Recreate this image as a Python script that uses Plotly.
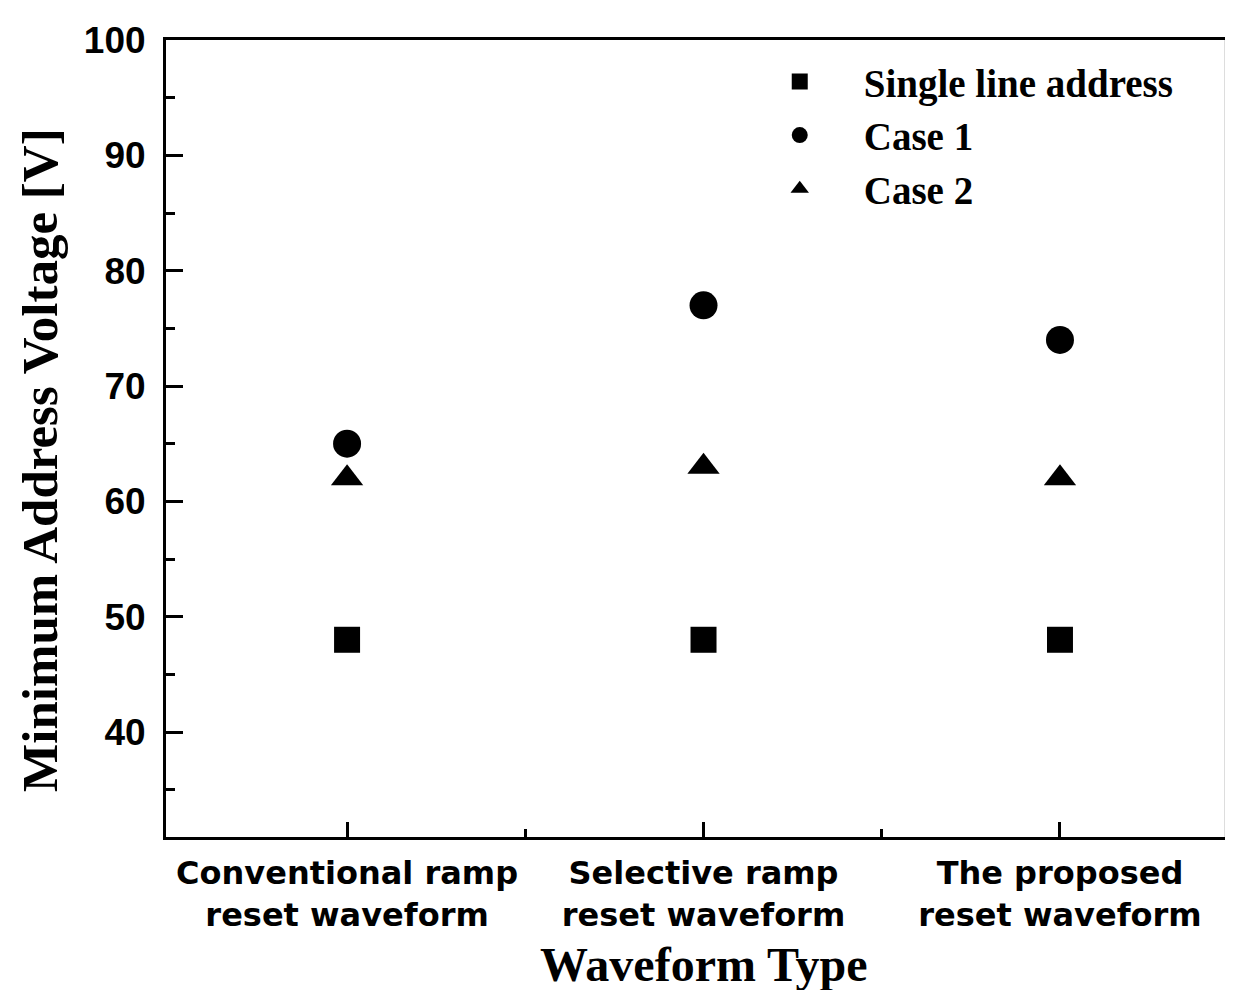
import plotly.graph_objects as go

categories = ["Conventional ramp<br>reset waveform",
              "Selective ramp<br>reset waveform",
              "The proposed<br>reset waveform"]
cat_pos = [0, 1, 2]
single_line = [48, 48, 48]
case1 = [65, 77, 74]
case2 = [62, 63, 62]

fig = go.Figure()
fig.add_trace(go.Scatter(x=cat_pos, y=single_line, mode="markers", name="Single line address",
                         marker=dict(symbol="square", size=26, color="black")))
fig.add_trace(go.Scatter(x=cat_pos, y=case1, mode="markers", name="Case 1",
                         marker=dict(symbol="circle", size=28, color="black")))
fig.add_trace(go.Scatter(x=cat_pos, y=case2, mode="markers", name="Case 2",
                         marker=dict(symbol="triangle-up", size=28, color="black")))

fig.update_layout(
    width=1217, height=982, autosize=False,
    margin=dict(l=158, r=0, t=32, b=153, pad=0),
    paper_bgcolor="white", plot_bgcolor="white",
    showlegend=True,
    legend=dict(x=0.538, y=0.988, xanchor="left", yanchor="top",
                font=dict(family="Liberation Serif", size=39, color="black", weight="bold"),
                bgcolor="rgba(0,0,0,0)", itemwidth=118, tracegroupgap=0),
    xaxis=dict(range=[-0.508, 2.463], tickmode="array", tickvals=cat_pos, ticktext=categories,
               showline=True, linewidth=3, linecolor="black", mirror=True,
               ticks="inside", ticklen=15, tickwidth=3, tickcolor="black",
               minor=dict(tickvals=[0.5, 1.5], ticks="inside", ticklen=8, tickwidth=3, tickcolor="black"),
               showgrid=False, zeroline=False, automargin=False,
               ticklabelstandoff=6,
               tickfont=dict(family="DejaVu Sans", size=32, color="black", weight="bold")),
    yaxis=dict(range=[30.9, 100], tickmode="linear", tick0=40, dtick=10,
               showline=True, linewidth=3, linecolor="black", mirror=False,
               ticks="inside", ticklen=17, tickwidth=3, tickcolor="black",
               minor=dict(dtick=5, ticks="inside", ticklen=9, tickwidth=3, tickcolor="black"),
               showgrid=False, zeroline=False, automargin=False,
               ticklabelstandoff=10,
               tickfont=dict(family="Liberation Sans", size=37, color="black", weight="bold")),
    shapes=[dict(type="line", xref="paper", yref="paper", x0=1, x1=1, y0=0, y1=1,
                 line=dict(color="#bbbbbb", width=1))],
    annotations=[
        dict(text="<b>Waveform Type</b>", xref="paper", yref="paper",
             x=0.508, y=-0.16, xanchor="center", yanchor="middle", showarrow=False,
             font=dict(family="Liberation Serif", size=48, color="black")),
        dict(text="<b>Minimum Address Voltage [V]</b>", xref="paper", yref="paper",
             x=-0.1191, y=0.473, xanchor="center", yanchor="middle", showarrow=False,
             textangle=-90,
             font=dict(family="Liberation Serif", size=51, color="black")),
    ],
)

fig.write_html("out.html")
